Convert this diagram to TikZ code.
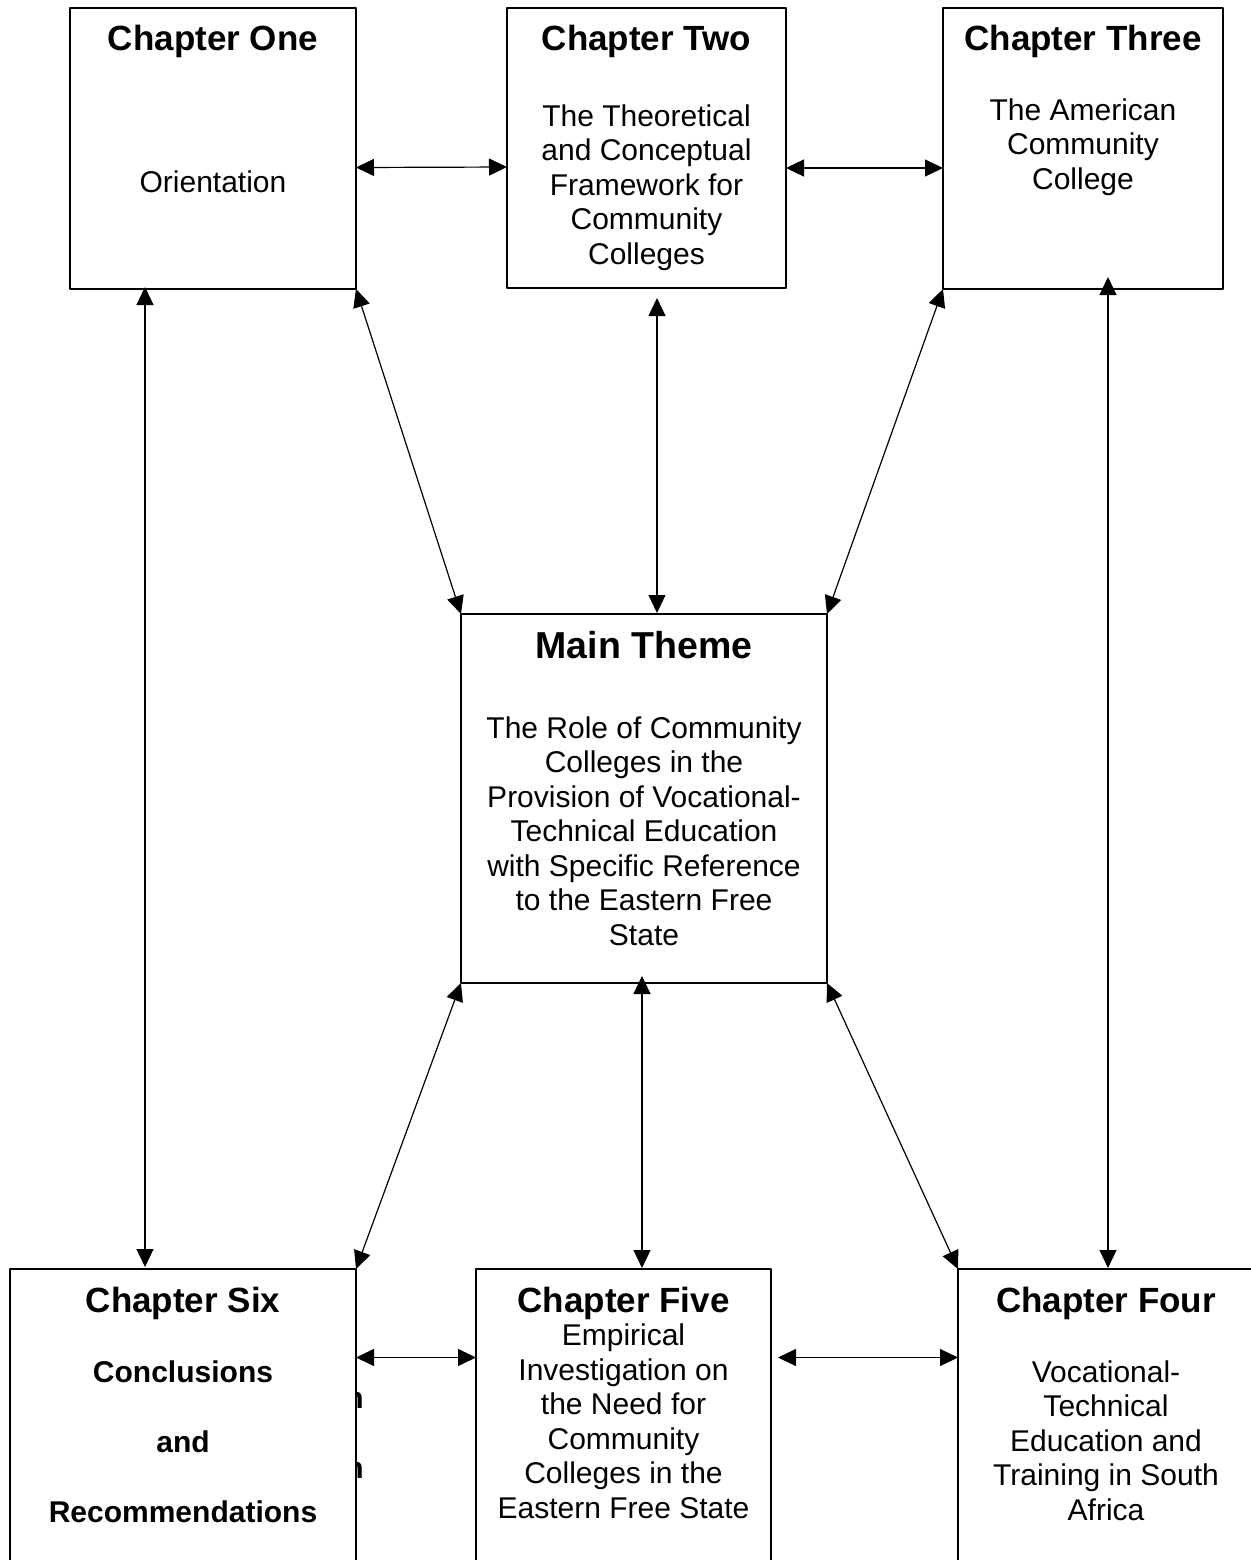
\documentclass[tikz,border=0pt]{standalone}
\usepackage{fontspec}
\setmainfont{Liberation Sans}
\usetikzlibrary{arrows.meta}
\begin{document}
\begin{tikzpicture}[x=0.5pt,y=-0.5pt,>={Triangle[length=9pt,width=8.5pt]},line join=round,
	box/.style={draw,line width=0.6pt,fill=white,inner sep=0pt,outer sep=0pt},
	ttl/.style={font=\bfseries\fontsize{17.5}{20}\selectfont,anchor=base,inner sep=0pt},
	txt/.style={font=\fontsize{15}{17.25}\selectfont,align=center,anchor=north,inner sep=0pt},
	con/.style={<->,line width=0.6pt}]
	\useasboundingbox (0,0) rectangle (1251,1560);
	\clip (0,0) rectangle (1251,1560);
	% letters left behind chapter six
	\foreach \y/\k in {1408/1,1478/2}\node[anchor=base east,inner sep=0pt,font=\bfseries\fontsize{15}{18}\selectfont] (stray\k) at (364,\y) {n};
	% boxes
	\node[box,minimum width=143pt,minimum height=140.5pt] (one) at (213,148.5) {};
	\node[box,minimum width=139.5pt,minimum height=140pt] (two) at (646.5,148) {};
	\node[box,minimum width=140pt,minimum height=140.5pt] (three) at (1083,148.5) {};
	\node[box,minimum width=183pt,minimum height=184.5pt] (main) at (644,798.5) {};
	\node[box,minimum width=173pt,minimum height=175.5pt] (six) at (183,1444.5) {};
	\node[box,minimum width=147.5pt,minimum height=175.5pt] (five) at (623.5,1444.5) {};
	\node[box,minimum width=149pt,minimum height=175.5pt] (four) at (1107,1444.5) {};
	% texts
	\node[ttl] (oneT) at (213,50) {Chapter One};
	\node[txt] (oneB) at (213,170) {Orientation};
	\node[ttl] (twoT) at (646.5,50) {Chapter Two};
	\node[txt] (twoB) at (646.5,104) {The Theoretical\\and Conceptual\\Framework for\\Community\\Colleges};
	\node[ttl] (threeT) at (1083,50) {Chapter Three};
	\node[txt] (threeB) at (1083,98) {The American\\Community\\College};
	\node[ttl,font=\bfseries\fontsize{18.75}{22}\selectfont] (mainT) at (644,658) {Main Theme};
	\node[txt] (mainB) at (644,716) {The Role of Community\\Colleges in the\\Provision of Vocational-\\Technical Education\\with Specific Reference\\to the Eastern Free\\State};
	\node[ttl] (sixT) at (183,1312) {Chapter Six};
	\node[txt,font=\bfseries\fontsize{15}{35}\selectfont] (sixB) at (183,1360.5) {Conclusions\\and\\Recommendations};
	\node[ttl] (fiveT) at (623.5,1312) {Chapter Five};
	\node[txt] (fiveB) at (623.5,1323.5) {Empirical\\Investigation on\\the Need for\\Community\\Colleges in the\\Eastern Free State};
	\node[ttl] (fourT) at (1106,1312) {Chapter Four};
	\node[txt] (fourB) at (1106,1360) {Vocational-\\Technical\\Education and\\Training in South\\Africa};
	% connectors
	\draw[con] ([shift={(0,19)}]one.east) -- ([shift={(0,19)}]two.west);
	\draw[con] ([shift={(0,20)}]two.east) -- ([shift={(0,19.5)}]three.west);
	\draw[con] ([shift={(-68,-2)}]one.south) -- ([shift={(-38,-2)}]six.north);
	\draw[con] (one.south east) -- (main.north west);
	\draw[con] ([shift={(10.5,10)}]two.south) -- ([shift={(13,-1)}]main.north);
	\draw[con] (three.south west) -- (main.north east);
	\draw[con] ([shift={(25,-12)}]three.south) -- ([shift={(1,-1)}]four.north);
	\draw[con] (main.south west) -- (six.north east);
	\draw[con] ([shift={(-2,-7)}]main.south) -- ([shift={(18.5,-1)}]five.north);
	\draw[con] (main.south east) -- (four.north west);
	\draw[con] ([shift={(0,-87)}]six.east) -- ([shift={(0,-87)}]five.west);
	\draw[con] ([shift={(7,-87)}]five.east) -- ([shift={(0,-87)}]four.west);
\end{tikzpicture}
\end{document}
